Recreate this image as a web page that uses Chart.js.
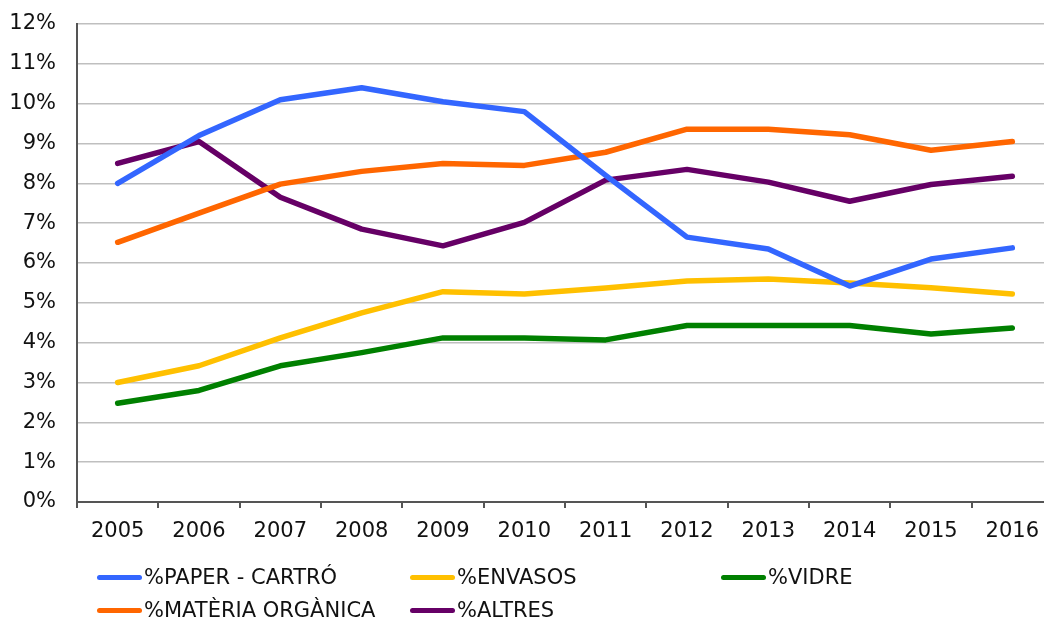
<!DOCTYPE html>
<html>
<head>
<meta charset="utf-8">
<script src="https://cdn.jsdelivr.net/npm/chart.js@4/dist/chart.umd.min.js"></script>
<style>
  html, body { margin: 0; padding: 0; background: #fff; overflow: hidden; }
  #wrap { position: absolute; left: 0; top: 0; width: 1070px; height: 619px; }
  #legend { position: absolute; left: 0; top: 0; width: 1044px; height: 619px; pointer-events: none;
            font-family: "DejaVu Sans", Verdana, sans-serif; font-size: 21px; color: #111; }
  .item { position: absolute; display: flex; align-items: center; height: 30px; white-space: nowrap; }
  .swatch { width: 45px; height: 5px; border-radius: 3px; margin-right: 2px; }
</style>
</head>
<body>
<div id="wrap"><canvas id="chart"></canvas></div>
<div id="legend"></div>
<script>
// Dades
const anys = ['2005', '2006', '2007', '2008', '2009', '2010', '2011', '2012', '2013', '2014', '2015', '2016'];
const paperCartro = [8.0, 9.2, 10.1, 10.4, 10.05, 9.8, 8.2, 6.65, 6.35, 5.42, 6.1, 6.38];
const envasos = [3.0, 3.42, 4.12, 4.75, 5.28, 5.22, 5.37, 5.55, 5.6, 5.5, 5.38, 5.22];
const vidre = [2.48, 2.8, 3.42, 3.75, 4.12, 4.12, 4.07, 4.43, 4.43, 4.43, 4.22, 4.37];
const materiaOrganica = [6.52, 7.25, 7.98, 8.3, 8.5, 8.45, 8.78, 9.36, 9.36, 9.22, 8.83, 9.05];
const altres = [8.5, 9.05, 7.65, 6.85, 6.43, 7.02, 8.08, 8.35, 8.03, 7.55, 7.97, 8.18];

const series = [
    { label: '%PAPER - CARTRÓ', data: paperCartro, color: '#3366FF' },
    { label: '%ENVASOS', data: envasos, color: '#FFC000' },
    { label: '%VIDRE', data: vidre, color: '#008000' },
    { label: '%MATÈRIA ORGÀNICA', data: materiaOrganica, color: '#FF6600' },
    { label: '%ALTRES', data: altres, color: '#660066' }
];

const fontBase = { family: '"DejaVu Sans", Verdana, sans-serif', size: 21 };

new Chart(document.getElementById('chart'), {
    type: 'line',
    data: {
        labels: anys,
        datasets: series.map(s => ({
            label: s.label,
            data: s.data,
            borderColor: s.color,
            backgroundColor: s.color,
            borderWidth: 5.5,
            pointRadius: 0,
            tension: 0,
            borderCapStyle: 'round',
            borderJoinStyle: 'round'
        }))
    },
    options: {
        responsive: true,
        maintainAspectRatio: false,
        animation: false,
        layout: { padding: { left: 0, top: 24, right: 17, bottom: 67 } },
        plugins: {
            legend: { display: false },
            tooltip: { enabled: false }
        },
        scales: {
            x: {
                offset: true,
                grid: { display: true, offset: true, drawOnChartArea: false, drawTicks: true,
                        tickLength: 6, color: '#555', lineWidth: 2 },
                border: { display: true, color: '#555', width: 2 },
                ticks: { color: '#111', font: fontBase, padding: 11, maxRotation: 0, autoSkip: false },
                afterFit: s => { s.height = 50; s.paddingLeft = 0; s.paddingRight = 0; }
            },
            y: {
                min: 0,
                max: 12,
                ticks: { stepSize: 1, color: '#111', font: fontBase, padding: 21,
                         callback: v => v + '%' },
                grid: { color: '#bfbfbf', lineWidth: 1.5, drawTicks: false },
                border: { display: true, color: '#555', width: 2 },
                afterFit: s => { s.width = 77; s.paddingTop = 0; s.paddingBottom = 0; }
            }
        }
    }
});

// Llegenda
const llegenda = document.getElementById('legend');
const posicions = [[97, 562], [410, 562], [721, 562], [97, 595], [410, 595]];
series.forEach((s, i) => {
    const el = document.createElement('div');
    el.className = 'item';
    el.style.left = posicions[i][0] + 'px';
    el.style.top = posicions[i][1] + 'px';
    el.innerHTML = `<span class="swatch" style="background:${s.color}"></span><span>${s.label}</span>`;
    llegenda.appendChild(el);
});
</script>
</body>
</html>
